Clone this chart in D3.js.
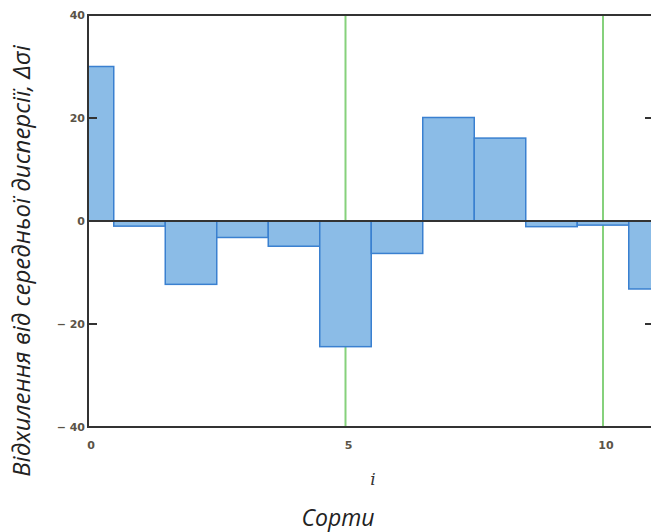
<!DOCTYPE html>
<html>
<head>
<meta charset="utf-8">
<script src="https://cdn.jsdelivr.net/npm/d3@7"></script>
<style>
  body { margin: 0; background: #fff; }
  svg { display: block; }
</style>
</head>
<body>
<script>
'use strict';

// sort index i and deviation from mean dispersion
const sorts = [0, 1, 2, 3, 4, 5, 6, 7, 8, 9, 10, 11];
const deviations = [30, -1, -12.3, -3.2, -4.9, -24.4, -6.3, 20.1, 16.1, -1.1, -0.8, -13.2];
const yTicks = [40, 20, 0, -20, -40];
const xTicks = [0, 5, 10];
const gridX = [5, 10];
const yTitle = 'Відхилення від середньої дисперсії, Δσi';
const xVar = 'i';
const xTitle = 'Сорти';

(function() {
  const width = 651, height = 532;

  const svg = d3.select('body').append('svg')
    .attr('width', width)
    .attr('height', height);

  // plot area, right part runs off the picture like in the original
  const x = d3.scaleLinear().domain([0, 11]).range([88, 654.5]);
  const y = d3.scaleLinear().domain([-40, 40]).range([427, 15]);

  svg.append('clipPath').attr('id', 'plot')
    .append('rect')
    .attr('x', x(0)).attr('y', y(40))
    .attr('width', x(11) - x(0)).attr('height', y(-40) - y(40));

  // green vertical grid lines
  svg.append('g').selectAll('line')
    .data(gridX)
    .enter().append('line')
      .attr('x1', d => x(d)).attr('x2', d => x(d))
      .attr('y1', y(40)).attr('y2', y(-40))
      .attr('stroke', '#86d17c')
      .attr('stroke-width', 2);

  // bars, each one unit wide, centred on i
  svg.append('g').attr('clip-path', 'url(#plot)')
    .selectAll('rect')
    .data(sorts)
    .enter().append('rect')
      .attr('x', d => x(d - 0.5))
      .attr('y', (d, i) => y(Math.max(0, deviations[i])))
      .attr('width', x(1) - x(0))
      .attr('height', (d, i) => Math.abs(y(deviations[i]) - y(0)))
      .attr('fill', '#8bbce7')
      .attr('stroke', '#3a80d0')
      .attr('stroke-width', 1.5);

  // zero line
  svg.append('line')
    .attr('x1', x(0)).attr('x2', width)
    .attr('y1', y(0)).attr('y2', y(0))
    .attr('stroke', '#333').attr('stroke-width', 2);

  // frame: left, top, bottom
  const frame = svg.append('g')
    .attr('stroke', '#333').attr('stroke-width', 2).attr('fill', 'none');
  frame.append('path')
    .attr('d', `M${width},${y(40)}H${x(0)}V${y(-40)}H${width}`);

  // inner ticks on left and right sides
  const tickVals = [20, -20];
  frame.selectAll('.lt').data(tickVals).enter().append('line')
    .attr('x1', x(0)).attr('x2', x(0) + 9)
    .attr('y1', d => y(d)).attr('y2', d => y(d));
  frame.selectAll('.rt').data(tickVals).enter().append('line')
    .attr('x1', width - 6).attr('x2', width)
    .attr('y1', d => y(d)).attr('y2', d => y(d));

  // y tick labels
  svg.append('g').selectAll('text')
    .data(yTicks)
    .enter().append('text')
      .attr('x', x(0) - 3)
      .attr('y', d => y(d) + 4)
      .attr('text-anchor', 'end')
      .style('font-family', 'DejaVu Sans, sans-serif')
      .style('font-size', '11px')
      .style('font-weight', 'bold')
      .style('fill', '#5a5347')
      .text(d => d < 0 ? '\u2212 ' + Math.abs(d) : d);

  // x tick labels
  svg.append('g').selectAll('text')
    .data(xTicks)
    .enter().append('text')
      .attr('x', d => x(d) + 3)
      .attr('y', 449)
      .attr('text-anchor', 'middle')
      .style('font-family', 'DejaVu Sans, sans-serif')
      .style('font-size', '11px')
      .style('font-weight', 'bold')
      .style('fill', '#5a5347')
      .text(d => d);

  // variable name under the axis
  svg.append('text')
    .attr('x', 373).attr('y', 485)
    .attr('text-anchor', 'middle')
    .style('font-family', 'DejaVu Serif, serif')
    .style('font-style', 'italic')
    .style('font-size', '17px')
    .style('fill', '#333')
    .text(xVar);

  // axis titles
  svg.append('text')
    .attr('x', 338).attr('y', 526)
    .attr('text-anchor', 'middle')
    .style('font-family', 'Open Sans, sans-serif')
    .style('font-style', 'italic')
    .style('font-size', '23px')
    .style('fill', '#222')
    .text(xTitle);

  svg.append('text')
    .attr('transform', 'translate(30, 261) rotate(-90)')
    .attr('text-anchor', 'middle')
    .style('font-family', 'Open Sans, sans-serif')
    .style('font-style', 'italic')
    .style('font-size', '24px')
    .style('fill', '#222')
    .text(yTitle);
})();
</script>
</body>
</html>
